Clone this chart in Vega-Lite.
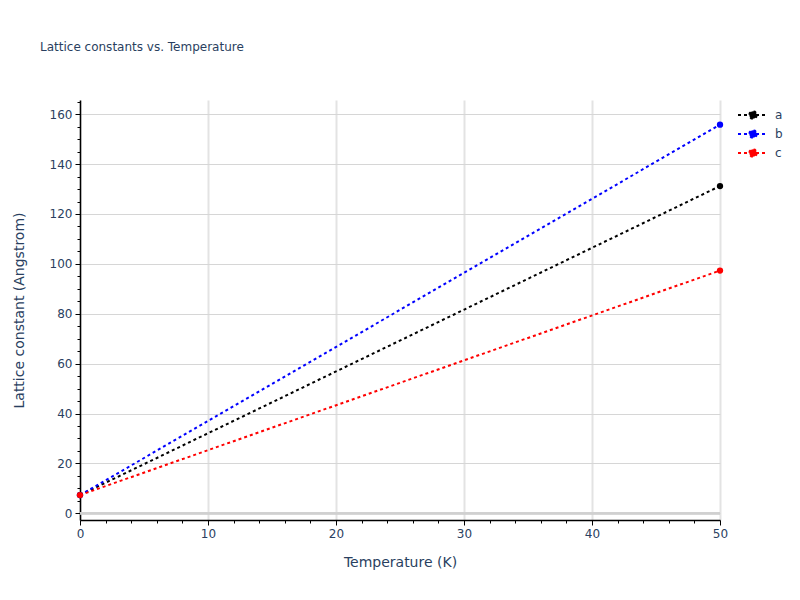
{
  "$schema": "https://vega.github.io/schema/vega-lite/v6.json",
  "width": 640,
  "height": 420,
  "autosize": "none",
  "padding": {"left": 80, "top": 100, "right": 80, "bottom": 80},
  "background": "white",
  "config": {
    "view": {"stroke": null},
    "font": "DejaVu Sans"
  },
  "title": {
    "text": "Lattice constants vs. Temperature",
    "anchor": "start",
    "frame": "group",
    "dx": -40,
    "offset": 46,
    "fontSize": 12,
    "font": "DejaVu Sans",
    "fontWeight": "normal",
    "color": "#2a3f5f"
  },
  "data": {
    "values": [
      {"T": 0, "value": 7.3, "axis": "a"},
      {"T": 50, "value": 131.2, "axis": "a"},
      {"T": 0, "value": 7.3, "axis": "b"},
      {"T": 50, "value": 155.8, "axis": "b"},
      {"T": 0, "value": 7.3, "axis": "c"},
      {"T": 50, "value": 97.3, "axis": "c"}
    ]
  },
  "resolve": {"axis": {"x": "independent", "y": "independent"}},
  "layer": [
    {
      "mark": {"type": "rule", "color": "#d0d0d0", "strokeWidth": 2},
      "encoding": {
        "y": {
          "datum": 0,
          "type": "quantitative",
          "scale": {"domain": [-2.7, 165.7], "nice": false, "zero": false},
          "axis": {
            "orient": "left",
            "values": [5, 10, 15, 25, 30, 35, 45, 50, 55, 65, 70, 75, 85, 90, 95, 105, 110, 115, 125, 130, 135, 145, 150, 155, 165],
            "labels": false,
            "grid": false,
            "domain": false,
            "tickSize": 3,
            "tickColor": "#000000",
            "title": null
          }
        }
      }
    },
    {
      "mark": {"type": "line", "strokeWidth": 2, "strokeDash": [3, 3]},
      "encoding": {
        "x": {
          "field": "T",
          "type": "quantitative",
          "scale": {"domain": [0, 50], "nice": false},
          "axis": {
            "orient": "bottom",
            "title": "Temperature (K)",
            "values": [0, 10, 20, 30, 40, 50],
            "labelFlush": false,
            "grid": true,
            "gridColor": "#e3e3e3",
            "gridWidth": 2,
            "domainColor": "#000000",
            "domainWidth": 1.5,
            "tickColor": "#000000",
            "tickSize": 5,
            "labelFontSize": 12,
            "labelColor": "#2a3f5f",
            "labelPadding": 3,
            "titleFontSize": 14,
            "titleFontWeight": "normal",
            "titleColor": "#2a3f5f",
            "titlePadding": 16,
            "titleFont": "DejaVu Sans",
            "labelFont": "DejaVu Sans"
          }
        },
        "y": {
          "field": "value",
          "type": "quantitative",
          "scale": {"domain": [-2.7, 165.7], "nice": false, "zero": false},
          "axis": {
            "orient": "left",
            "title": "Lattice constant (Angstrom)",
            "values": [0, 20, 40, 60, 80, 100, 120, 140, 160],
            "labelFlush": false,
            "grid": true,
            "gridColor": "#d6d6d6",
            "gridWidth": 1,
            "domainColor": "#000000",
            "domainWidth": 1.5,
            "tickColor": "#000000",
            "tickSize": 5,
            "labelFontSize": 12,
            "labelColor": "#2a3f5f",
            "labelPadding": 3,
            "titleFontSize": 14,
            "titleFontWeight": "normal",
            "titleColor": "#2a3f5f",
            "titlePadding": 23,
            "titleFont": "DejaVu Sans",
            "labelFont": "DejaVu Sans"
          }
        },
        "color": {
          "field": "axis",
          "type": "nominal",
          "scale": {"domain": ["a", "b", "c"], "range": ["#000000", "#0000ff", "#ff0000"]},
          "legend": {
            "title": null,
            "orient": "none",
            "legendX": 657,
            "legendY": 5.5,
            "symbolType": "M-1,0L1,0M0.25,0L0.217,0.125L0.125,0.217L0,0.25L-0.125,0.217L-0.217,0.125L-0.25,0L-0.217,-0.125L-0.125,-0.217L0,-0.25L0.125,-0.217L0.217,-0.125Z",
            "symbolSize": 900,
            "symbolStrokeWidth": 2,
            "symbolDash": [3, 3],
            "clipHeight": 19,
            "rowPadding": 0,
            "labelFontSize": 12,
            "labelColor": "#2a3f5f",
            "labelFont": "DejaVu Sans",
            "labelOffset": 6,
            "encode": {
              "symbols": {
                "update": {
                  "fill": {"scale": "color", "field": "value"},
                  "fillOpacity": {"value": 1},
                  "stroke": {"scale": "color", "field": "value"},
                  "opacity": {"value": 1}
                }
              }
            }
          }
        }
      }
    },
    {
      "mark": {"type": "point", "filled": true, "size": 40, "opacity": 1},
      "encoding": {
        "x": {
          "field": "T",
          "type": "quantitative",
          "axis": {
            "orient": "bottom",
            "values": [2, 4, 6, 8, 12, 14, 16, 18, 22, 24, 26, 28, 32, 34, 36, 38, 42, 44, 46, 48],
            "labels": false,
            "grid": false,
            "domain": false,
            "tickSize": 3,
            "tickColor": "#000000",
            "title": null
          }
        },
        "y": {"field": "value", "type": "quantitative", "axis": null},
        "color": {"field": "axis", "type": "nominal", "legend": null}
      }
    }
  ]
}
